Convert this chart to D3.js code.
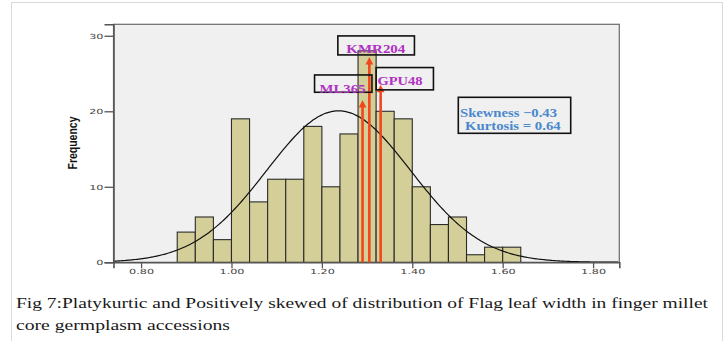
<!DOCTYPE html>
<html>
<head>
<meta charset="utf-8">
<script src="https://cdn.jsdelivr.net/npm/d3@7/dist/d3.min.js"></script>
<style>
body{margin:0;background:#fff;}
svg{display:block;}
</style>
</head>
<body>
<div id="chart"></div>
<script>
'use strict'
// histogram data (bin lower edges, bin width 0.04)
var binLower = [0.88, 0.92, 0.96, 1.00, 1.04, 1.08, 1.12, 1.16, 1.20, 1.24, 1.28, 1.32, 1.36, 1.40, 1.44, 1.48, 1.52, 1.56, 1.60];
var binWidth = 0.04;
var frequencies = [4, 6, 3, 19, 8, 11, 11, 18, 10, 17, 28, 20, 19, 10, 5, 6, 1, 2, 2];
var xTickValues = [0.80, 1.00, 1.20, 1.40, 1.60, 1.80];
var yTickValues = [0, 10, 20, 30];
var accessionNames = ["ML365", "KMR204", "GPU48"];
var accessionWidths = [1.29, 1.305, 1.33];
var arrowTops = [21.5, 27.2, 23.5];
var statLines = ["Skewness \u22120.43", "Kurtosis = 0.64"];
var axisTitle = "Frequency";
var captionLines = [
    "Fig 7:Platykurtic  and Positively skewed of  distribution of Flag leaf width in finger millet",
    "core germplasm  accessions"
];

var histChart = (function(){
    var self = {},
    _svg,
    _x,
    _y,
    plot = {left: 113.5, top: 24.3, right: 619.3, bottom: 262.3},

    //stretch text horizontally like the scanned figure
    stretch = function(sel, factor){
        sel.each(function(){
            var len = this.getComputedTextLength();
            d3.select(this)
                .attr("textLength", len * factor)
                .attr("lengthAdjust", "spacingAndGlyphs");
        });
    },

    addSVGToDOM = function(placeHolder){
        _svg = d3.select(placeHolder)
                .append("svg")
                .attr("width", 728)
                .attr("height", 341);

        _svg.append("rect")
            .attr("width", 728).attr("height", 341)
            .attr("fill", "#fff");

        // light page frame
        _svg.append("rect")
            .attr("x", 11.5).attr("y", 2.5)
            .attr("width", 711).attr("height", 400)
            .attr("fill", "none")
            .attr("stroke", "#d9d9d9");
    },

    createScales = function(){
        _x = d3.scaleLinear().domain([0.739, 1.858]).range([plot.left, plot.right]);
        _y = d3.scaleLinear().domain([0, 31.52]).range([plot.bottom, plot.top]);
    },

    drawFrame = function(){
        _svg.append("rect")
            .attr("x", plot.left).attr("y", plot.top)
            .attr("width", plot.right - plot.left)
            .attr("height", plot.bottom - plot.top)
            .attr("fill", "#f0f0f0")
            .attr("stroke", "#6a6a6a")
            .attr("stroke-width", 1.2);
    },

    drawAxes = function(){
        var yAxis = d3.axisLeft(_y).tickValues(yTickValues).tickSize(9).tickPadding(1).tickFormat(d3.format("d"));
        var xAxis = d3.axisBottom(_x).tickValues(xTickValues).tickSize(6).tickPadding(1).tickFormat(d3.format(".2f"));

        var gy = _svg.append("g")
            .attr("transform", "translate(" + plot.left + ",0)")
            .call(yAxis);
        var gx = _svg.append("g")
            .attr("transform", "translate(0," + plot.bottom + ")")
            .call(xAxis);

        [gx, gy].forEach(function(g){
            g.select(".domain").attr("stroke", "#555").attr("stroke-width", 1.6);
            g.selectAll(".tick line").attr("stroke", "#555").attr("stroke-width", 1.3);
            g.selectAll(".tick text")
                .attr("fill", "#444")
                .attr("font-family", "DejaVu Sans, sans-serif")
                .attr("font-size", "7px");
            stretch(g.selectAll(".tick text"), 1.6);
        });

        _svg.append("text")
            .attr("transform", "translate(77,143) scale(1.15,1) rotate(-90)")
            .attr("text-anchor", "middle")
            .attr("font-family", "Liberation Sans, Arial, sans-serif")
            .attr("font-weight", "bold")
            .attr("font-size", "10.5px")
            .attr("fill", "#111")
            .text(axisTitle);
    },

    drawBars = function(){
        _svg.append("g")
            .selectAll("rect")
            .data(frequencies)
            .enter()
            .append("rect")
            .attr("x", function(d, i){ return _x(binLower[i]); })
            .attr("width", function(d, i){ return _x(binLower[i] + binWidth) - _x(binLower[i]); })
            .attr("y", function(d){ return _y(d); })
            .attr("height", function(d){ return _y(0) - _y(d); })
            .attr("fill", "#d4cf98")
            .attr("stroke", "#2b2b2b")
            .attr("stroke-width", 1.1);
    },

    //normal curve fitted from the histogram itself
    drawNormalCurve = function(){
        var n = d3.sum(frequencies);
        var mids = binLower.map(function(b){ return b + binWidth / 2; });
        var mean = d3.sum(mids, function(m, i){ return m * frequencies[i]; }) / n;
        var ss = d3.sum(mids, function(m, i){ return frequencies[i] * (m - mean) * (m - mean); });
        var sd = Math.sqrt(ss / (n - 1));
        var dom = _x.domain();
        var pts = d3.range(dom[0], dom[1] + 0.001, 0.004).map(function(v){
            var z = (v - mean) / sd;
            return [v, n * binWidth * Math.exp(-0.5 * z * z) / (sd * Math.sqrt(2 * Math.PI))];
        });

        _svg.append("path")
            .datum(pts)
            .attr("fill", "none")
            .attr("stroke", "#111")
            .attr("stroke-width", 1.2)
            .attr("d", d3.line()
                .x(function(d){ return _x(d[0]); })
                .y(function(d){ return _y(d[1]); })
                .curve(d3.curveBasis));
    },

    drawArrows = function(){
        var boxes = [
            {dx: -48, dy: -25, w: 57.4, h: 17.3, tx: -43, ty: -7, tw: 46},
            {dx: -31.5, dy: -21, w: 76.6, h: 19, tx: -23, ty: -4.3, tw: 59},
            {dx: -4.5, dy: -17.3, w: 57.3, h: 22.3, tx: -3.2, ty: 0, tw: 45}
        ];
        var g = _svg.append("g");

        accessionNames.forEach(function(name, i){
            var cx = _x(accessionWidths[i]);
            var tip = _y(arrowTops[i]);

            g.append("line")
                .attr("x1", cx).attr("x2", cx)
                .attr("y1", _y(0)).attr("y2", tip + 5)
                .attr("stroke", "#f2471d")
                .attr("stroke-width", 2.6);
            g.append("path")
                .attr("d", "M" + cx + "," + tip + "L" + (cx + 3.8) + "," + (tip + 7.5) + "L" + (cx - 3.8) + "," + (tip + 7.5) + "Z")
                .attr("fill", "#f2471d");
        });

        accessionNames.forEach(function(name, i){
            var cx = _x(accessionWidths[i]);
            var tip = _y(arrowTops[i]);
            var b = boxes[i];

            g.append("rect")
                .attr("x", cx + b.dx).attr("y", tip + b.dy)
                .attr("width", b.w).attr("height", b.h)
                .attr("fill", "none")
                .attr("stroke", "#111")
                .attr("stroke-width", 1.6);
            g.append("text")
                .attr("x", cx + b.tx).attr("y", tip + b.ty)
                .attr("font-family", "Liberation Serif, Times New Roman, serif")
                .attr("font-weight", "bold")
                .attr("font-size", "13px")
                .attr("fill", "#b032c4")
                .attr("textLength", b.tw)
                .attr("lengthAdjust", "spacingAndGlyphs")
                .text(name);
        });
    },

    drawStats = function(){
        var g = _svg.append("g");
        g.append("rect")
            .attr("x", 458.3).attr("y", 97.3)
            .attr("width", 112.4).attr("height", 36)
            .attr("fill", "none")
            .attr("stroke", "#111")
            .attr("stroke-width", 1.6);

        var pos = [{x: 460, y: 116.7, w: 97}, {x: 465, y: 130, w: 95.7}];
        g.selectAll("text")
            .data(statLines)
            .enter()
            .append("text")
            .attr("x", function(d, i){ return pos[i].x; })
            .attr("y", function(d, i){ return pos[i].y; })
            .attr("textLength", function(d, i){ return pos[i].w; })
            .attr("lengthAdjust", "spacingAndGlyphs")
            .attr("font-family", "Liberation Serif, Times New Roman, serif")
            .attr("font-weight", "bold")
            .attr("font-size", "12.5px")
            .attr("fill", "#4a88cc")
            .text(function(d){ return d; });
    },

    drawCaption = function(){
        var pos = [{y: 308, w: 692}, {y: 330, w: 214}];
        _svg.append("g")
            .selectAll("text")
            .data(captionLines)
            .enter()
            .append("text")
            .attr("x", 16)
            .attr("y", function(d, i){ return pos[i].y; })
            .attr("textLength", function(d, i){ return pos[i].w; })
            .attr("lengthAdjust", "spacingAndGlyphs")
            .attr("font-family", "Liberation Serif, Times New Roman, serif")
            .attr("font-size", "14px")
            .attr("fill", "#1a1a1a")
            .text(function(d){ return d; });
    };

    self.init = function(placeHolder){
        addSVGToDOM(placeHolder);
        createScales();
        drawFrame();
        drawBars();
        drawNormalCurve();
        drawAxes();
        drawArrows();
        drawStats();
        drawCaption();
    };

    return self;
}());

histChart.init("#chart");
</script>
</body>
</html>
